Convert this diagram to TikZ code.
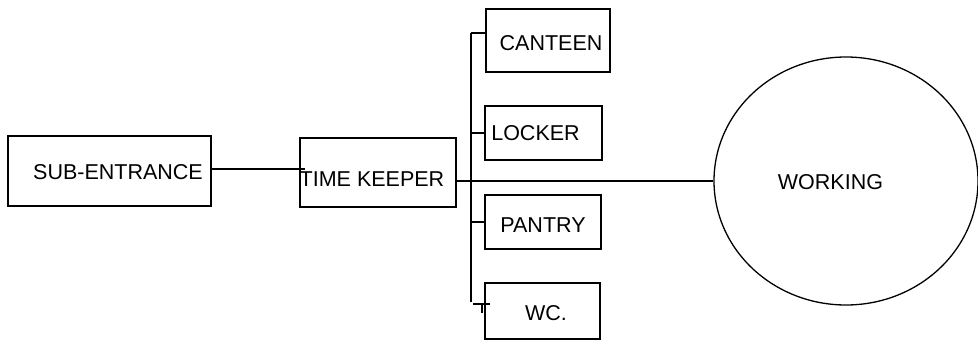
\documentclass[tikz,border=0pt]{standalone}
\usepackage{fontspec}
\setmainfont{Liberation Sans}
\usetikzlibrary{shapes.geometric}
\begin{document}
\begin{tikzpicture}[x=1pt,y=-1pt,line width=1.3pt,
  roombox/.style={draw,rectangle,inner sep=0pt},
  lbl/.style={inner sep=0pt,font=\fontsize{21.5}{25}\selectfont},
  conn/.style={draw,line width=1.3pt}]
\useasboundingbox (0,0) rectangle (978,340);
% boxes
\node[roombox,minimum width=203pt,minimum height=70pt] (sub) at (109.5,171) {};
\node[roombox,minimum width=156pt,minimum height=69pt] (tk) at (378,172.5) {};
\node[roombox,minimum width=124pt,minimum height=63pt] (can) at (548,40.5) {};
\node[roombox,minimum width=117pt,minimum height=54pt] (lock) at (543.5,133) {};
\node[roombox,minimum width=116pt,minimum height=54pt] (pan) at (543,222) {};
\node[roombox,minimum width=115pt,minimum height=56pt] (wc) at (542.5,311) {};
\node[draw,ellipse,inner sep=0pt,minimum width=264pt,minimum height=248pt] (work) at (846,181) {};
% labels
\node[lbl] (subt) at (118,172) {SUB-ENTRANCE};
\node[lbl] (tkt) at (372,179) {TIME KEEPER};
\node[lbl] (cant) at (551,43) {CANTEEN};
\node[lbl] (lockt) at (535.5,133) {LOCKER};
\node[lbl] (pant) at (543,225) {PANTRY};
\node[lbl] (wct) at (546,313) {WC.};
\node[lbl] (workt) at (830.5,182) {WORKING};
% connectors
\coordinate (bt) at (471,33);
\coordinate (bb) at (471,302);
\coordinate (tkin) at (305,169);
\draw[conn] (bt) -- (bb);
\draw[conn] (sub.east |- tkin) -- (tkin);
\draw[conn] (tk.east |- work.west) -- (work.west);
\draw[conn] (bt) -- (bt -| can.west);
\draw[conn] (bt |- lock.west) -- (lock.west);
\draw[conn] (bt |- pan.west) -- (pan.west);
\coordinate (wa) at (473,304);
\coordinate (wb) at (490,304);
\coordinate (wm) at (482,304);
\coordinate (wd) at (482,313);
\draw[conn] (wa) -- (wb);
\draw[conn] (wm) -- (wd);
\end{tikzpicture}
\end{document}
